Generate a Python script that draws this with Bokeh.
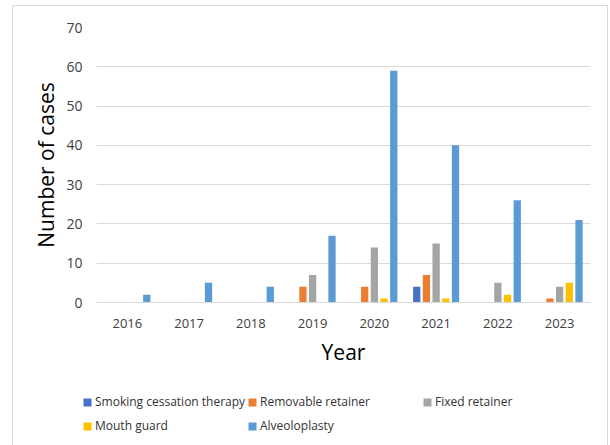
from bokeh.plotting import figure
from bokeh.layouts import column
from bokeh.models import ColumnDataSource, FactorRange, Range1d, Legend, LegendItem, FixedTicker
from bokeh.transform import dodge
from bokeh.embed import file_html
from bokeh.resources import INLINE

years = ["2016", "2017", "2018", "2019", "2020", "2021", "2022", "2023"]
series_names = ["Smoking cessation therapy", "Removable retainer", "Fixed retainer",
                "Mouth guard", "Alveoloplasty"]
smoking = [0, 0, 0, 0, 0, 4, 0, 0]
removable = [0, 0, 0, 4, 4, 7, 0, 1]
fixed = [0, 0, 0, 7, 14, 15, 5, 4]
mouth_guard = [0, 0, 0, 0, 1, 1, 2, 5]
alveoloplasty = [2, 5, 4, 17, 59, 40, 26, 21]
y_ticks = [0, 10, 20, 30, 40, 50, 60, 70]

colors = ["#4472C4", "#ED7D31", "#A5A5A5", "#FFC000", "#5B9BD5"]
keys = ["smoking", "removable", "fixed", "mouth", "alveo"]

source = ColumnDataSource(dict(years=years, smoking=smoking, removable=removable,
                               fixed=fixed, mouth=mouth_guard, alveo=alveoloplasty))

FONT = "Open Sans"

p = figure(x_range=FactorRange(*years, range_padding=0, factor_padding=0),
           y_range=Range1d(0, 70),
           width=594, height=369, output_backend="svg", toolbar_location=None,
           min_border_left=83, min_border_right=17, min_border_top=21, min_border_bottom=73)
p.outline_line_color = None
p.background_fill_color = "white"
p.border_fill_color = "white"

pitch = 0.157
bw = 0.118
for i, (k, c) in enumerate(zip(keys, colors)):
    p.vbar(x=dodge("years", (i - 2) * pitch, range=p.x_range), top=k, width=bw,
           source=source, fill_color=c, line_color=None)

p.xgrid.grid_line_color = None
p.ygrid.grid_line_color = "#d9d9d9"
p.ygrid.grid_line_width = 1
p.yaxis.ticker = FixedTicker(ticks=y_ticks)

p.yaxis.axis_line_color = None
p.yaxis.major_tick_line_color = None
p.yaxis.minor_tick_line_color = None
p.yaxis.major_tick_out = 0
p.yaxis.minor_tick_out = 0
p.yaxis.major_label_text_font = FONT
p.yaxis.major_label_text_font_size = "14px"
p.yaxis.major_label_text_color = "#404040"
p.yaxis.major_label_standoff = 14
p.yaxis.axis_label = "Number of cases"
p.yaxis.axis_label_text_font = FONT
p.yaxis.axis_label_text_font_size = "21px"
p.yaxis.axis_label_text_font_style = "normal"
p.yaxis.axis_label_text_color = "#000000"
p.yaxis.axis_label_standoff = 3

p.xaxis.axis_line_color = "#d9d9d9"
p.xaxis.major_tick_line_color = None
p.xaxis.minor_tick_line_color = None
p.xaxis.major_label_text_font = FONT
p.xaxis.major_label_text_font_size = "13px"
p.xaxis.major_label_text_color = "#404040"
p.xaxis.major_label_standoff = 10
p.xaxis.axis_label = "Year"
p.xaxis.axis_label_text_font = FONT
p.xaxis.axis_label_text_font_size = "21px"
p.xaxis.axis_label_text_font_style = "normal"
p.xaxis.axis_label_text_color = "#000000"
p.xaxis.axis_label_standoff = 7

# legend panel
lp = figure(x_range=Range1d(0, 1), y_range=Range1d(0, 1), width=594, height=70,
            output_backend="svg", toolbar_location=None,
            x_axis_type=None, y_axis_type=None,
            min_border_left=0, min_border_right=0, min_border_top=0, min_border_bottom=0)
lp.frame_align = False
lp.outline_line_color = None
lp.grid.grid_line_color = None
lp.border_fill_color = "white"

legend_pos = [(69, 35), (234, 35), (409, 35), (69, 11), (234, 11)]
for name, c, loc in zip(series_names, colors, legend_pos):
    # legend swatch source: a bar placed outside the visible range of the legend panel
    r = lp.vbar(x=[5], top=[5], width=0.1, fill_color=c, line_color=None)
    lg = Legend(items=[LegendItem(label=name, renderers=[r])], location=loc,
                padding=0, margin=0, spacing=0, border_line_color=None,
                background_fill_alpha=0, glyph_width=10, glyph_height=10,
                label_height=10, label_standoff=3,
                label_text_font=FONT, label_text_font_size="12px",
                label_text_color="#333333")
    lp.add_layout(lg)

layout = column(p, lp, spacing=0)
layout.margin = (5, 2, 0, 12)
layout.styles = {"border-left": "1px solid #d9d9d9", "border-top": "1px solid #d9d9d9",
                 "border-right": "1px solid #d9d9d9", "background": "white"}

open("out.html", "w").write(file_html(layout, INLINE))
